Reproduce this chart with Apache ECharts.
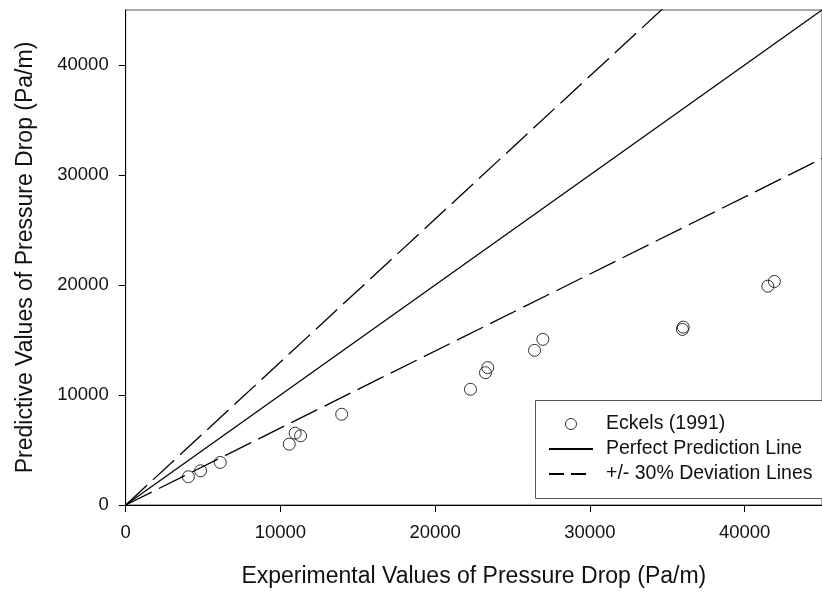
<!DOCTYPE html>
<html>
<head>
<meta charset="utf-8">
<script src="https://cdn.jsdelivr.net/npm/echarts@6/dist/echarts.min.js"></script>
<style>
  html, body { margin: 0; padding: 0; background: #fff; }
  #chart { width: 822px; height: 593px; }
</style>
</head>
<body>
<div id="chart"></div>
<script>
// Measured pressure drop (x) versus predicted pressure drop (y), Pa/m
const experimental = [4050, 4840, 6110, 10570, 10950, 11300, 13960, 22280, 23250, 23400, 26420, 26960, 35980, 36030, 41500, 41920];
const predicted    = [2570, 3110, 3870, 5530, 6530, 6290, 8250, 10520, 12030, 12490, 14060, 15060, 15960, 16170, 19890, 20320];

// Reference lines: y = x and y = x +/- 30 %
const perfectLine = [[0, 0], [45000, 45000]];
const upperLine   = [[0, 0], [45000, 58500]];
const lowerLine   = [[0, 0], [45000, 31500]];

const xTicks = [0, 10000, 20000, 30000, 40000];
const yTicks = [0, 10000, 20000, 30000, 40000];

const scatterName = 'Eckels (1991)';
const perfectName = 'Perfect Prediction Line';
const deviationName = '+/- 30% Deviation Lines';

const FONT = '"Liberation Sans", Arial, sans-serif';
const points = experimental.map((x, i) => [x, predicted[i]]);

const chart = echarts.init(document.getElementById('chart'), null, { renderer: 'canvas' });

const axisCommon = {
  type: 'value',
  min: 0,
  max: 45000,
  interval: 10000,
  splitLine: { show: false },
  axisLine: { show: true, lineStyle: { color: '#000', width: 1 } },
  nameLocation: 'middle',
  nameTextStyle: { fontFamily: FONT, fontSize: 23, color: '#111' }
};

chart.setOption({
  animation: false,
  backgroundColor: '#fff',
  grid: {
    left: 125.7,
    top: 10,
    width: 707,
    height: 496,
    show: true,
    borderColor: '#555',
    borderWidth: 1,
    backgroundColor: 'transparent'
  },
  xAxis: Object.assign({}, axisCommon, {
    name: 'Experimental Values of Pressure Drop (Pa/m)',
    nameGap: 60,
    axisTick: { show: true, inside: false, length: 7, customValues: xTicks, lineStyle: { color: '#000', width: 1 } },
    axisLabel: {
      fontFamily: FONT, fontSize: 18.5, color: '#111', margin: 18,
      customValues: xTicks,
      formatter: v => String(v)
    }
  }),
  yAxis: Object.assign({}, axisCommon, {
    name: 'Predictive Values of Pressure Drop (Pa/m)',
    nameGap: 89,
    nameRotate: 90,
    axisTick: { show: true, inside: false, length: 7, customValues: yTicks, lineStyle: { color: '#000', width: 1 } },
    axisLabel: {
      fontFamily: FONT, fontSize: 18.5, color: '#111', margin: 17,
      customValues: yTicks,
      formatter: v => String(v)
    }
  }),
  // legend frame; it runs past the right edge of the canvas
  graphic: [{
    type: 'rect',
    z: 90,
    shape: { x: 535.5, y: 400.5, width: 400, height: 98 },
    style: { fill: '#fff', stroke: '#555', lineWidth: 1 }
  }],
  legend: {
    orient: 'vertical',
    left: 535,
    top: 400,
    z: 100,
    padding: [14, 10, 14, 13],
    itemGap: 5,
    itemWidth: 44,
    itemHeight: 11,
    textStyle: { fontFamily: FONT, fontSize: 19.5, color: '#111', lineHeight: 20, padding: [0, 0, 0, 8] },
    data: [
      { name: scatterName, icon: 'circle', itemStyle: { color: 'transparent', borderColor: '#000', borderWidth: 1 } },
      { name: perfectName, itemStyle: { opacity: 0 } },
      { name: deviationName, itemStyle: { opacity: 0 }, lineStyle: { type: [15, 7] } }
    ],
    selectedMode: false
  },
  series: [
    {
      name: perfectName,
      type: 'line',
      data: perfectLine,
      showSymbol: false,
      symbol: 'none',
      lineStyle: { color: '#000', width: 1.3, type: 'solid' },
      itemStyle: { color: '#000' },
      clip: true,
      z: 2
    },
    {
      name: deviationName,
      type: 'line',
      data: upperLine,
      showSymbol: false,
      symbol: 'none',
      lineStyle: { color: '#000', width: 1.3, type: [29, 8] },
      itemStyle: { color: '#000' },
      clip: true,
      z: 2
    },
    {
      name: deviationName,
      type: 'line',
      data: lowerLine,
      showSymbol: false,
      symbol: 'none',
      lineStyle: { color: '#000', width: 1.3, type: [29, 8] },
      itemStyle: { color: '#000' },
      clip: true,
      z: 2
    },
    {
      name: scatterName,
      type: 'scatter',
      data: points,
      symbol: 'circle',
      symbolSize: 12,
      itemStyle: { color: 'transparent', borderColor: '#000', borderWidth: 1 },
      z: 3
    }
  ]
});
</script>
</body>
</html>
